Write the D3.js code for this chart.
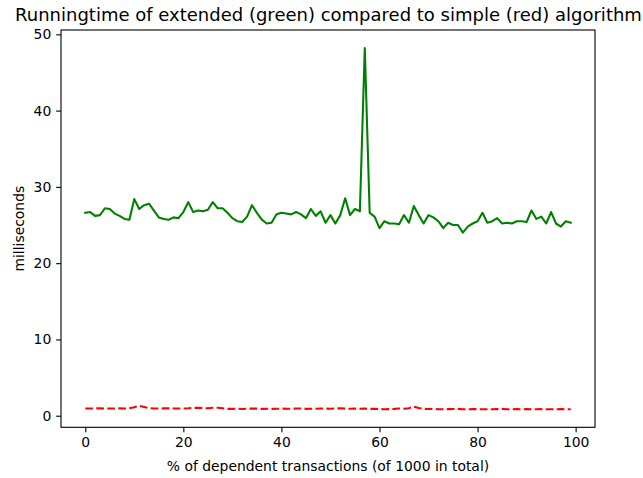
<!DOCTYPE html>
<html>
<head>
<meta charset="utf-8">
<script src="https://cdn.jsdelivr.net/npm/d3@7"></script>
<style>
  html, body { margin: 0; padding: 0; background: #fff; }
  svg { display: block; font-family: "DejaVu Sans", sans-serif; }
</style>
</head>
<body>
<svg id="chart" width="643" height="478"></svg>
<script>
const titleText = "Runningtime of extended (green) compared to simple (red) algorithm";
const xLabel = "% of dependent transactions (of 1000 in total)";
const yLabel = "milliseconds";

const extendedMs = [
  26.6, 26.7, 26.2, 26.3, 27.2, 27.1, 26.5, 26.2, 25.8, 25.7,
  28.4, 27.1, 27.6, 27.8, 26.9, 26.0, 25.8, 25.7, 26.0, 25.9,
  26.7, 28.0, 26.7, 26.9, 26.8, 27.0, 28.0, 27.2, 27.2, 26.6,
  25.9, 25.5, 25.4, 26.1, 27.6, 26.6, 25.7, 25.2, 25.3, 26.4,
  26.6, 26.5, 26.4, 26.7, 26.4, 25.9, 27.1, 26.2, 26.8, 25.3,
  26.3, 25.2, 26.3, 28.5, 26.3, 27.1, 26.8, 48.2, 26.6, 26.1,
  24.6, 25.5, 25.2, 25.2, 25.1, 26.3, 25.3, 27.5, 26.3, 25.2,
  26.3, 26.0, 25.5, 24.6, 25.3, 25.0, 25.0, 24.0, 24.8, 25.2,
  25.5, 26.6, 25.3, 25.5, 25.9, 25.2, 25.3, 25.2, 25.5, 25.5,
  25.4, 26.9, 25.8, 26.1, 25.2, 26.7, 25.2, 24.8, 25.5, 25.3
];

const simpleMs = [
  0.95, 0.95, 0.96, 0.97, 0.95, 0.94, 0.95, 0.96, 0.95, 0.97,
  1.10, 1.30, 1.15, 1.00, 0.95, 0.95, 0.96, 0.97, 0.95, 0.94,
  0.95, 0.97, 1.02, 1.05, 1.00, 0.98, 1.05, 1.04, 0.98, 0.90,
  0.90, 0.92, 0.88, 0.92, 0.95, 0.93, 0.90, 0.92, 0.90, 0.92,
  0.93, 0.92, 0.92, 0.95, 0.94, 0.90, 0.92, 0.92, 0.95, 0.93,
  0.92, 0.95, 0.98, 0.93, 0.92, 0.93, 0.92, 0.93, 0.90, 0.92,
  0.88, 0.85, 0.87, 0.90, 0.95, 0.92, 0.98, 1.20, 1.00, 0.90,
  0.88, 0.87, 0.86, 0.86, 0.87, 0.88, 0.90, 0.86, 0.85, 0.87,
  0.86, 0.86, 0.86, 0.85, 0.87, 0.90, 0.86, 0.85, 0.86, 0.85,
  0.86, 0.85, 0.85, 0.86, 0.85, 0.85, 0.85, 0.86, 0.85, 0.85
];

const xTicks = [0, 20, 40, 60, 80, 100];
const yTicks = [0, 10, 20, 30, 40, 50];

const svg = d3.select("#chart");
const L = 61, R = 595, T = 30, B = 427.3;

const xs = d3.range(extendedMs.length);
const xMin = d3.min(xs), xMax = d3.max(xs);
const xPad = 0.05 * (xMax - xMin);
const allY = extendedMs.concat(simpleMs);
const yMin = d3.min(allY), yMax = d3.max(allY);
const yPad = 0.05 * (yMax - yMin);

const x = d3.scaleLinear().domain([xMin - xPad, xMax + xPad]).range([L, R]);
const y = d3.scaleLinear().domain([yMin - yPad, yMax + yPad]).range([B, T]);

const fontSize = 13.9;

// Lines
const line = d3.line().x((d, i) => x(i)).y(d => y(d));
svg.append("path").datum(extendedMs)
  .attr("d", line).attr("fill", "none").attr("stroke", "#008000")
  .attr("stroke-width", 2.08).attr("stroke-linejoin", "round").attr("stroke-linecap", "square");
svg.append("path").datum(simpleMs)
  .attr("d", line).attr("fill", "none").attr("stroke", "#ff0000")
  .attr("stroke-width", 2.08).attr("stroke-dasharray", "7.7,3.3");

// Axes
const xAxis = d3.axisBottom(x).tickValues(xTicks).tickSize(4.86).tickPadding(4.5).tickFormat(d3.format("d"));
const yAxis = d3.axisLeft(y).tickValues(yTicks).tickSize(4.86).tickPadding(4.9).tickFormat(d3.format("d"));

const gx = svg.append("g").attr("transform", `translate(0,${B})`).call(xAxis);
const gy = svg.append("g").attr("transform", `translate(${L},0)`).call(yAxis);
[gx, gy].forEach(g => {
  g.select(".domain").remove();
  g.selectAll(".tick line").attr("stroke", "#000").attr("stroke-width", 1.1);
  g.selectAll(".tick text").attr("fill", "#000").attr("font-size", fontSize)
    .attr("font-family", "DejaVu Sans");
});

// Frame
svg.append("rect").attr("x", L).attr("y", T).attr("width", R - L).attr("height", B - T)
  .attr("fill", "none").attr("stroke", "#000").attr("stroke-width", 1.1);

// Labels
svg.append("text").attr("x", (L + R) / 2).attr("y", 470.5)
  .attr("text-anchor", "middle").attr("font-size", fontSize).attr("fill", "#000").text(xLabel);
svg.append("text").attr("transform", `translate(23.5,${(T + B) / 2}) rotate(-90)`)
  .attr("text-anchor", "middle").attr("font-size", fontSize).attr("fill", "#000").text(yLabel);
svg.append("text").attr("x", (L + R) / 2 + 0.5).attr("y", 20.5)
  .attr("text-anchor", "middle").attr("font-size", 18).attr("fill", "#000").text(titleText);
</script>
</body>
</html>
